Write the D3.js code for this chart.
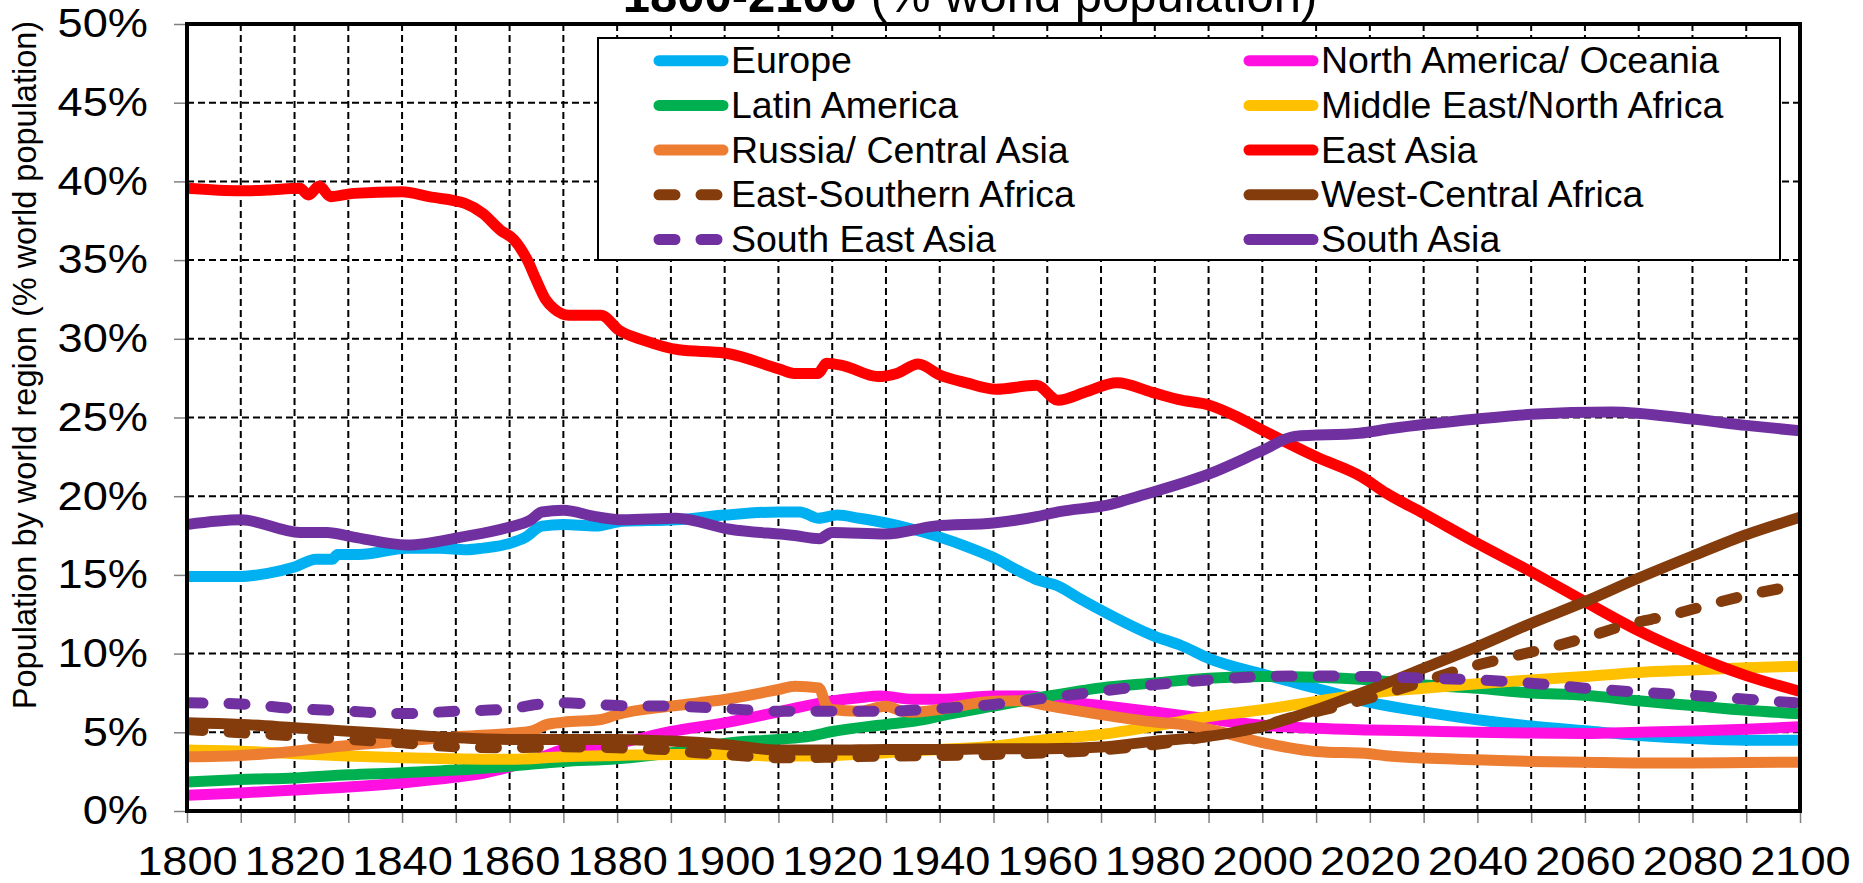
<!DOCTYPE html>
<html lang="en">
<head>
<meta charset="UTF-8">
<title>Population by world region 1800-2100</title>
<style>
  body { margin: 0; background: #fff; }
  svg { display: block; font-family: Arial, "Liberation Sans", sans-serif; }
</style>
<script src="https://d3js.org/d3.v7.min.js"></script>
</head>
<body>
<svg id="chart" width="1863" height="883"></svg>
<script>
// tick labels
const yearTicks = d3.range(1800, 2101, 10);
const pctTicks = d3.range(0, 51, 5);

// [year, % of world population]
const europe = [[1800,14.9],[1810,14.9],[1815,15.1],[1820,15.5],[1824,16.0],[1827,16.0],[1828,16.3],[1832,16.3],[1841,16.7],[1847,16.7],[1852,16.6],[1855,16.7],[1860,17.0],[1863,17.4],[1866,18.1],[1870,18.2],[1876,18.1],[1881,18.4],[1891,18.5],[1900,18.8],[1910,19.0],[1914,19.0],[1917.5,18.6],[1921,18.8],[1925,18.6],[1930,18.3],[1935,17.9],[1940,17.4],[1945,16.8],[1950,16.1],[1955,15.2],[1958,14.7],[1962,14.3],[1966,13.5],[1972,12.4],[1980,11.1],[1985,10.5],[1990,9.7],[2000,8.7],[2010,7.8],[2020,6.9],[2030,6.3],[2040,5.8],[2050,5.4],[2060,5.1],[2070,4.8],[2080,4.6],[2090,4.5],[2100,4.5]];
const northAmerica = [[1800,1.0],[1810,1.15],[1820,1.33],[1830,1.52],[1840,1.78],[1850,2.15],[1855,2.4],[1860,2.8],[1865,3.3],[1870,3.9],[1880,4.3],[1890,5.05],[1900,5.6],[1910,6.3],[1920,7.0],[1925,7.2],[1929,7.3],[1935,7.1],[1940,7.1],[1950,7.3],[1957,7.3],[1960,7.1],[1970,6.7],[1980,6.3],[1990,5.85],[2000,5.45],[2010,5.25],[2020,5.15],[2030,5.08],[2040,5.0],[2050,4.95],[2060,4.93],[2070,5.0],[2080,5.08],[2090,5.2],[2100,5.35]];
const latinAmerica = [[1800,1.84],[1810,2.0],[1820,2.1],[1830,2.3],[1840,2.43],[1850,2.6],[1860,2.85],[1870,3.15],[1880,3.32],[1890,3.7],[1895,4.0],[1900,4.29],[1910,4.55],[1916,4.76],[1920,5.05],[1930,5.5],[1937,5.8],[1940,6.03],[1950,6.66],[1960,7.29],[1970,7.82],[1980,8.14],[1990,8.44],[2000,8.54],[2010,8.5],[2020,8.33],[2030,8.0],[2040,7.8],[2050,7.5],[2060,7.35],[2070,7.0],[2080,6.7],[2090,6.4],[2100,6.18]];
const mena = [[1800,3.87],[1810,3.8],[1820,3.64],[1830,3.49],[1840,3.38],[1850,3.32],[1860,3.28],[1870,3.45],[1880,3.53],[1890,3.59],[1900,3.59],[1910,3.49],[1920,3.53],[1930,3.7],[1940,3.91],[1950,4.12],[1960,4.55],[1970,4.86],[1980,5.39],[1990,6.0],[2000,6.43],[2010,6.96],[2020,7.48],[2030,7.8],[2040,8.08],[2050,8.33],[2060,8.54],[2070,8.8],[2080,8.95],[2090,9.1],[2100,9.2]];
const russia = [[1800,3.45],[1810,3.53],[1820,3.8],[1830,4.16],[1840,4.44],[1850,4.71],[1860,4.93],[1864,5.07],[1867,5.5],[1870,5.64],[1877,5.81],[1880,6.13],[1890,6.66],[1895,6.87],[1900,7.08],[1910,7.72],[1913,7.93],[1917.5,7.82],[1919,6.66],[1920,6.45],[1925,6.34],[1930,6.66],[1933,6.34],[1935,6.28],[1940,6.45],[1950,6.98],[1955,7.0],[1960,6.7],[1970,6.13],[1980,5.65],[1985,5.5],[1990,5.2],[2000,4.35],[2010,3.78],[2020,3.64],[2023,3.51],[2030,3.36],[2040,3.26],[2050,3.15],[2060,3.1],[2070,3.05],[2080,3.05],[2090,3.08],[2100,3.1]];
const eastAsia = [[1800,39.56],[1810,39.4],[1815,39.45],[1821,39.56],[1822.6,39.14],[1824.6,39.7],[1826.7,39.03],[1831,39.24],[1840,39.35],[1845,39.03],[1851.7,38.6],[1855,37.97],[1858.3,36.9],[1860.8,36.3],[1863.3,35.0],[1865,33.7],[1866.7,32.5],[1868.3,31.9],[1871,31.5],[1877,31.5],[1880.3,30.56],[1885,29.9],[1891.5,29.3],[1900,29.1],[1910,28.1],[1913,27.8],[1917.3,27.8],[1919,28.45],[1922,28.3],[1928.5,27.6],[1932,27.8],[1936,28.4],[1940,27.7],[1945,27.2],[1950.5,26.8],[1958,27.05],[1962,26.1],[1967,26.6],[1973,27.2],[1979.5,26.6],[1985,26.1],[1990,25.8],[1995,25.1],[2000,24.2],[2010,22.5],[2018.6,21.2],[2023,20.2],[2030,18.9],[2040,17.0],[2050,15.2],[2060,13.3],[2070,11.45],[2080,9.9],[2090,8.6],[2100,7.6]];
const eastSouthAfrica = [[1800,5.18],[1810,4.97],[1820,4.76],[1830,4.55],[1840,4.33],[1850,4.08],[1860,4.02],[1870,4.08],[1880,4.02],[1890,3.87],[1895,3.7],[1900,3.59],[1910,3.38],[1920,3.42],[1930,3.49],[1940,3.53],[1950,3.59],[1960,3.7],[1970,3.87],[1980,4.23],[1990,4.75],[2000,5.4],[2005,5.9],[2014,6.64],[2022,7.38],[2029,8.12],[2037,9.0],[2045,9.7],[2053,10.34],[2060,11.0],[2068,11.85],[2076,12.45],[2083,13.1],[2090,13.7],[2100,14.35]];
const westCentralAfrica = [[1800,5.6],[1810,5.5],[1820,5.29],[1830,5.07],[1840,4.86],[1850,4.65],[1860,4.55],[1870,4.55],[1880,4.55],[1890,4.44],[1900,4.23],[1910,3.87],[1920,3.87],[1930,3.91],[1940,3.91],[1950,3.95],[1960,3.95],[1970,4.06],[1980,4.44],[1990,4.74],[2000,5.37],[2010,6.43],[2020,7.7],[2030,9.07],[2040,10.44],[2050,11.92],[2060,13.3],[2070,14.8],[2080,16.2],[2090,17.55],[2100,18.66]];
const southEastAsia = [[1800,6.87],[1810,6.8],[1820,6.51],[1830,6.34],[1840,6.19],[1850,6.34],[1860,6.49],[1865,6.77],[1870,6.87],[1880,6.7],[1890,6.66],[1900,6.51],[1910,6.34],[1920,6.34],[1930,6.34],[1940,6.51],[1950,6.77],[1960,7.19],[1970,7.61],[1980,8.03],[1990,8.33],[2000,8.54],[2010,8.58],[2020,8.54],[2030,8.44],[2040,8.33],[2050,8.12],[2060,7.8],[2070,7.55],[2080,7.35],[2090,7.1],[2100,6.85]];
const southAsia = [[1800,18.2],[1810,18.5],[1821,17.7],[1826,17.7],[1831,17.4],[1841,16.9],[1851,17.4],[1859.5,18.0],[1864,18.5],[1866,19.0],[1870,19.1],[1876,18.7],[1881,18.5],[1891,18.6],[1901,17.9],[1913,17.5],[1917.6,17.3],[1920,17.7],[1930,17.6],[1939,18.1],[1950,18.3],[1958,18.7],[1962,19.0],[1972,19.5],[1977,20.0],[1990,21.4],[2000,22.9],[2006,23.8],[2018,24.0],[2024,24.3],[2040,24.9],[2050,25.2],[2065,25.35],[2080,24.9],[2090,24.5],[2100,24.15]];

// legend order = drawing order (later on top)
const series = [
    { name: "Europe", color: "#00B0F0", dashed: false, data: europe },
    { name: "North America/ Oceania", color: "#FF0FE0", dashed: false, data: northAmerica },
    { name: "Latin America", color: "#00B050", dashed: false, data: latinAmerica },
    { name: "Middle East/North Africa", color: "#FFC000", dashed: false, data: mena },
    { name: "Russia/ Central Asia", color: "#ED7D31", dashed: false, data: russia },
    { name: "East Asia", color: "#FF0000", dashed: false, data: eastAsia },
    { name: "East-Southern Africa", color: "#843C0C", dashed: true, data: eastSouthAfrica },
    { name: "West-Central Africa", color: "#843C0C", dashed: false, data: westCentralAfrica },
    { name: "South East Asia", color: "#7030A0", dashed: true, data: southEastAsia },
    { name: "South Asia", color: "#7030A0", dashed: false, data: southAsia }
];

const svg = d3.select("#chart");
const plotLeft = 187, plotRight = 1800, plotTop = 24, plotBottom = 811;
const stretch = 1.13;   // tick labels in the original are a bit wide
const lineWidth = 11;
const dash = "16,26";

const x = d3.scaleLinear().domain([1800, 2100]).range([plotLeft, plotRight]);
const y = d3.scaleLinear().domain([0, 50]).range([plotBottom, plotTop]);

// grid
svg.append("g")
    .selectAll("line")
    .data(yearTicks.filter(d => d > 1800 && d < 2100))
    .join("line")
    .attr("x1", d => x(d)).attr("x2", d => x(d))
    .attr("y1", plotTop).attr("y2", plotBottom)
    .attr("stroke", "#000").attr("stroke-width", 2)
    .attr("stroke-dasharray", "7,4");

svg.append("g")
    .selectAll("line")
    .data(pctTicks.filter(d => d > 0 && d < 50))
    .join("line")
    .attr("x1", plotLeft).attr("x2", plotRight)
    .attr("y1", d => y(d)).attr("y2", d => y(d))
    .attr("stroke", "#000").attr("stroke-width", 2)
    .attr("stroke-dasharray", "7,4");

// axes
const yAxis = svg.append("g")
    .attr("transform", `translate(${plotLeft},0)`)
    .call(d3.axisLeft(y).tickValues(pctTicks).tickSize(13).tickPadding(26).tickFormat(d => d + "%"));
const xAxis = svg.append("g")
    .attr("transform", `translate(0,${plotBottom})`)
    .call(d3.axisBottom(x).tickValues(yearTicks).tickSize(12).tickPadding(24)
        .tickFormat(d => d % 20 === 0 ? d : ""));

[yAxis, xAxis].forEach(function (g) {
    g.select(".domain").remove();
    g.selectAll(".tick line").attr("stroke", "#808080").attr("stroke-width", 1.5);
    g.selectAll(".tick text")
        .attr("font-size", 40)
        .attr("font-family", "Arial, 'Liberation Sans', sans-serif")
        .attr("fill", "#000")
        .attr("transform", `scale(${stretch},1)`);
});
yAxis.selectAll(".tick text").attr("x", -39 / stretch);

// lines
svg.append("clipPath").attr("id", "plot-clip")
    .append("rect")
    .attr("x", plotLeft).attr("y", plotTop)
    .attr("width", plotRight - plotLeft).attr("height", plotBottom - plotTop);

const line = d3.line()
    .x(d => x(d[0]))
    .y(d => y(d[1]))
    .curve(d3.curveMonotoneX);

svg.append("g")
    .attr("clip-path", "url(#plot-clip)")
    .selectAll("path")
    .data(series)
    .join("path")
    .attr("d", d => line(d.data))
    .attr("fill", "none")
    .attr("stroke", d => d.color)
    .attr("stroke-width", lineWidth)
    .attr("stroke-linejoin", "round")
    .attr("stroke-linecap", "round")
    .attr("stroke-dasharray", d => d.dashed ? dash : null);

// frame
svg.append("rect")
    .attr("x", plotLeft).attr("y", plotTop)
    .attr("width", plotRight - plotLeft).attr("height", plotBottom - plotTop)
    .attr("fill", "none")
    .attr("stroke", "#000").attr("stroke-width", 4);

// legend
const legend = svg.append("g");
legend.append("rect")
    .attr("x", 598).attr("y", 38)
    .attr("width", 1182).attr("height", 222)
    .attr("fill", "#fff")
    .attr("stroke", "#000").attr("stroke-width", 2);

const items = legend.selectAll("g.item")
    .data(series)
    .join("g")
    .attr("class", "item")
    .attr("transform", (d, i) => `translate(${i % 2 === 0 ? 654 : 1244},${60.7 + Math.floor(i / 2) * 44.7})`);

items.append("line")
    .attr("x1", 5).attr("x2", 69)
    .attr("stroke", d => d.color)
    .attr("stroke-width", lineWidth)
    .attr("stroke-linecap", "round")
    .attr("stroke-dasharray", d => d.dashed ? dash : null);

items.append("text")
    .attr("x", 77)
    .attr("y", 12.5)
    .attr("font-size", 37.5)
    .text(d => d.name);

// y axis title
svg.append("text")
    .attr("transform", "translate(36,365) rotate(-90)")
    .attr("text-anchor", "middle")
    .attr("font-size", 32.5)
    .text("Population by world region (% world population)");

// chart title, cut off at the top as in the original
const title = svg.append("text")
    .attr("x", 970)
    .attr("y", 12)
    .attr("text-anchor", "middle")
    .attr("font-size", 49);
title.append("tspan").attr("font-weight", "bold").text("1800-2100");
title.append("tspan").text(" (% world population)");
</script>
</body>
</html>
